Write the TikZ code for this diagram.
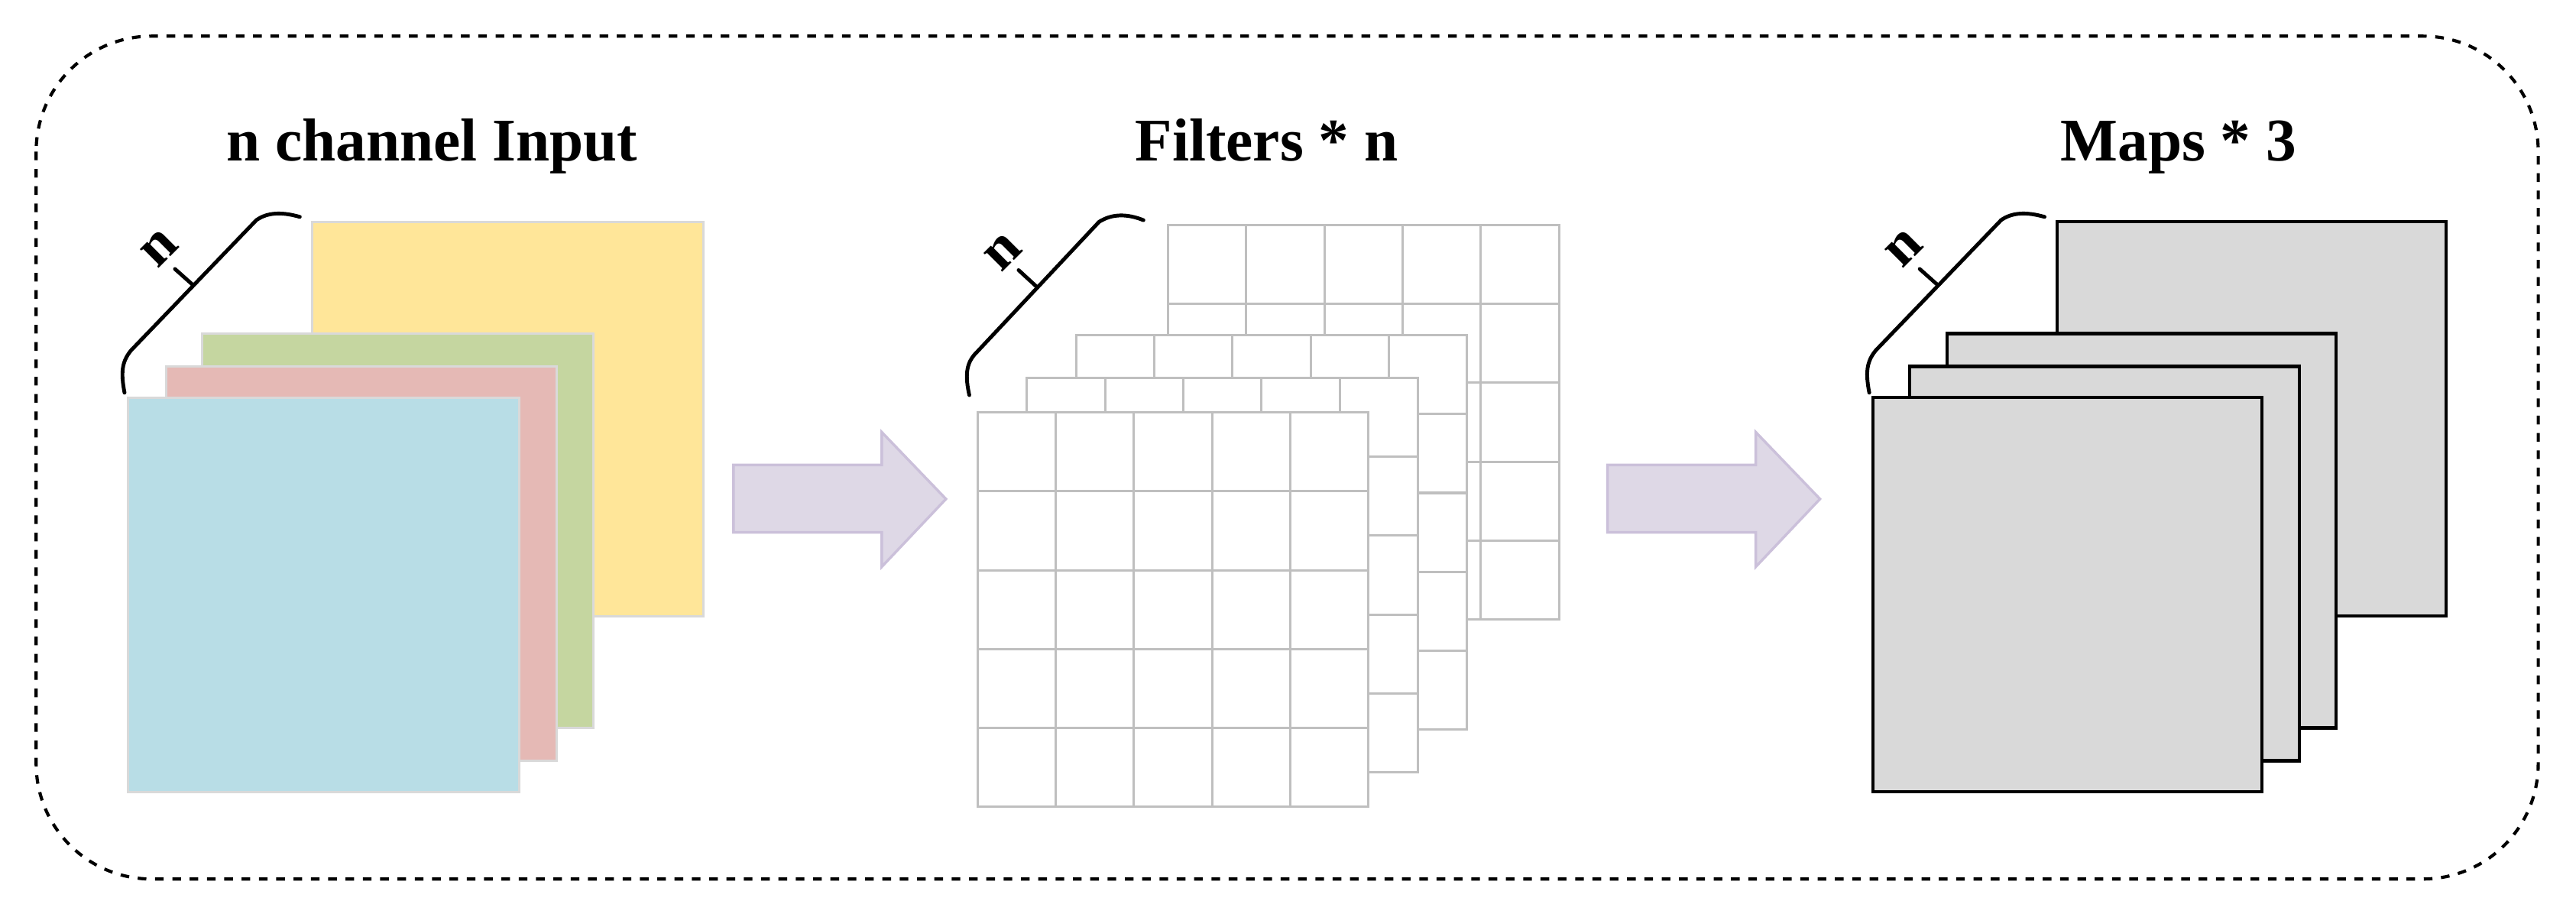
\documentclass[tikz,border=0pt]{standalone}
\usepackage{fontspec}
\setmainfont{Liberation Serif}
\begin{document}
\begin{tikzpicture}[x=0.02cm,y=-0.02cm,
  title/.style={font=\fontsize{21}{25}\selectfont\bfseries, anchor=base, inner sep=0pt},
  nlab/.style={font=\fontsize{20}{24}\selectfont\bfseries, rotate=45, inner sep=0pt},
  brace/.style={line width=1.3pt, line cap=round},
  inp/.style={draw=black!15, line width=0.8pt},
  fgr/.style={draw=black!25, line width=0.8pt, fill=white},
  mp/.style={draw=black, line width=1.1pt, fill=black!15},
  barrow/.style={draw=violet!30!gray!45, fill=violet!10!gray!20, line width=0.8pt, line join=miter}]
\useasboundingbox (0,0) rectangle (1568,556);
\definecolor{cy}{HTML}{FFE699}\definecolor{cg}{HTML}{C5D6A0}
\definecolor{cp}{HTML}{E5B9B5}\definecolor{cb}{HTML}{B8DDE6}
\definecolor{af}{HTML}{DED8E6}\definecolor{ad}{HTML}{CBC0DA}
\draw[dashed, line width=1.1pt, rounded corners=40] (22,22) rectangle (1545,535);
\node[title] (t1) at (263,98) {n channel Input};
\node[title] (t2) at (771,98) {Filters * n};
\node[title] (t3) at (1326,98) {Maps * 3};
% input
\fill[cy, inp] (190,135) rectangle ++(238,240);
\fill[cg, inp] (123,203) rectangle ++(238,240);
\fill[cp, inp] (101,223) rectangle ++(238,240);
\fill[cb, inp] (78,242) rectangle ++(238,240);
% braces
\foreach \dx/\nm in {0/a,1062/c}{
\begin{scope}[xshift=\dx*0.02cm]
\draw[brace] (75.8,239) .. controls (73.5,227) and (74,220) .. (80,213) -- (156,134) .. controls (163,129) and (172,129) .. (182.5,132);
\draw[brace] (117.5,173.5) -- (106.5,163.7);
\node[nlab] (n\nm) at (97.2,151) {n};
\end{scope}}
\draw[brace] (590,240.5) .. controls (587.5,229) and (588,222) .. (593,216) -- (669,135) .. controls (677,130) and (686,130) .. (696,134);
\draw[brace] (631,174.5) -- (620,164.4);
\node[nlab] (nb) at (610.8,153.6) {n};
% filters
\foreach \x/\y in {711/137,655/204,625/230,595/251}{
  \draw[fgr] (\x,\y) rectangle ++(238,240);
  \foreach \i in {1,...,4}{
    \draw[fgr] (\x+\i*47.6,\y) -- ++(0,240);
    \draw[fgr] (\x,\y+\i*48) -- ++(238,0);}
}
% maps
\draw[mp] (1252,135) rectangle ++(237,240);
\draw[mp] (1185,203) rectangle ++(237,240);
\draw[mp] (1162.5,223) rectangle ++(237,240);
\draw[mp] (1140,242) rectangle ++(237,240);
% arrows
\foreach \dx in {0,532}{
\draw[fill=af, draw=ad, line width=0.9pt] (446.5+\dx,283) -- (536.7+\dx,283) -- (536.7+\dx,263) -- (575.8+\dx,303.7) -- (536.7+\dx,345) -- (536.7+\dx,324) -- (446.5+\dx,324) -- cycle;}
\end{tikzpicture}
\end{document}
